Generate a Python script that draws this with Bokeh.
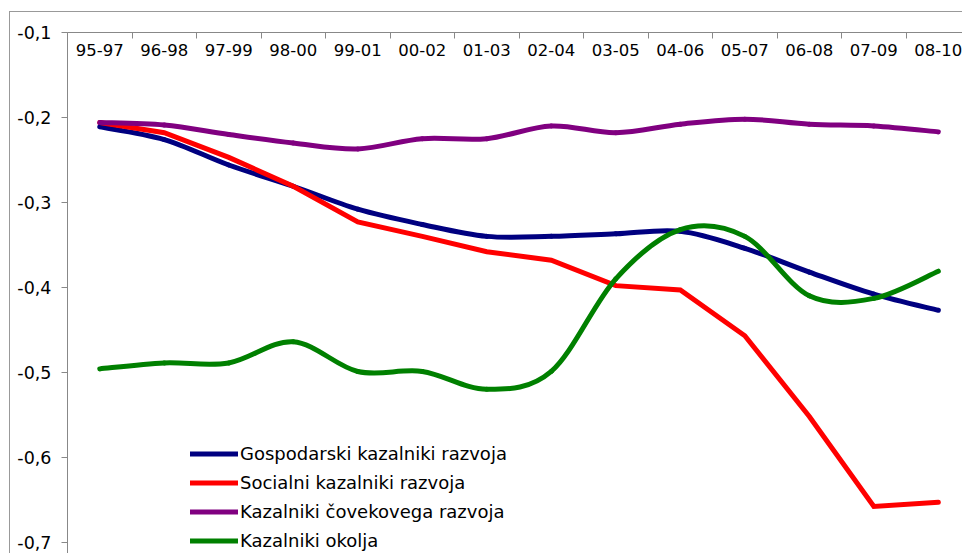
from bokeh.plotting import figure
from bokeh.models import FixedTicker, Legend, LegendItem
from bokeh.embed import file_html
from bokeh.resources import INLINE

categories = ["95-97", "96-98", "97-99", "98-00", "99-01", "00-02", "01-03",
              "02-04", "03-05", "04-06", "05-07", "06-08", "07-09", "08-10"]

gospodarski = [-0.211, -0.226, -0.256, -0.281, -0.308, -0.326, -0.340,
               -0.340, -0.337, -0.334, -0.354, -0.382, -0.408, -0.427]
socialni = [-0.206, -0.218, -0.247, -0.281, -0.323, -0.340, -0.358,
            -0.368, -0.398, -0.403, -0.457, -0.552, -0.658, -0.653]
clovekovega = [-0.206, -0.209, -0.220, -0.230, -0.237, -0.225, -0.225,
               -0.210, -0.218, -0.208, -0.202, -0.208, -0.210, -0.217]
okolja = [-0.496, -0.489, -0.489, -0.464, -0.499, -0.499, -0.520,
          -0.499, -0.390, -0.332, -0.340, -0.410, -0.413, -0.381]

series_names = ["Gospodarski kazalniki razvoja", "Socialni kazalniki razvoja",
                "Kazalniki čovekovega razvoja", "Kazalniki okolja"]
series_colors = ["#000080", "#FF0000", "#800080", "#008000"]

y_ticks = [-0.1, -0.2, -0.3, -0.4, -0.5, -0.6, -0.7]
y_tick_labels = ["-0,1", "-0,2", "-0,3", "-0,4", "-0,5", "-0,6", "-0,7"]

FONT = "DejaVu Sans"

x_centers = [i + 0.5 for i in range(len(categories))]
x_bounds = list(range(len(categories) + 1))

p = figure(width=953, height=542, x_range=(0, 13.89), y_range=(-0.7145, -0.1),
           x_axis_location="above", output_backend="svg", toolbar_location=None,
           min_border_left=57, min_border_top=20, min_border_right=0,
           min_border_bottom=0)
p.margin = (11, 0, 0, 9)
p.styles = {"border-top": "1px solid #999999", "border-left": "1px solid #999999"}
p.outline_line_color = None
p.xgrid.visible = False
p.ygrid.visible = False
p.background_fill_color = "white"
p.border_fill_color = "white"

xa = p.xaxis[0]
xa.ticker = FixedTicker(ticks=x_centers, minor_ticks=x_bounds)
xa.major_label_overrides = {x: c for x, c in zip(x_centers, categories)}
xa.major_tick_in = 0
xa.major_tick_out = 0
xa.minor_tick_in = 6
xa.minor_tick_out = 0
xa.axis_line_color = "#888888"
xa.minor_tick_line_color = "#888888"
xa.major_label_text_font = FONT
xa.major_label_text_font_size = "16.5px"
xa.major_label_text_color = "#000000"
xa.major_label_standoff = -23

ya = p.yaxis[0]
ya.ticker = FixedTicker(ticks=y_ticks)
ya.major_label_overrides = dict(zip(y_ticks, y_tick_labels))
ya.major_tick_in = 0
ya.major_tick_out = 6
ya.minor_tick_line_color = None
ya.axis_line_color = "#888888"
ya.major_tick_line_color = "#888888"
ya.major_label_text_font = FONT
ya.major_label_text_font_size = "17.5px"
ya.major_label_text_color = "#000000"
ya.major_label_standoff = 10


def smooth_segments(xs, ys):
    n = len(xs)
    px = [xs[0]] + list(xs) + [xs[-1]]
    py = [ys[0]] + list(ys) + [ys[-1]]
    seg = dict(x0=[], y0=[], x1=[], y1=[], cx0=[], cy0=[], cx1=[], cy1=[])
    for i in range(n - 1):
        a, b = i + 1, i + 2
        seg["x0"].append(px[a]); seg["y0"].append(py[a])
        seg["x1"].append(px[b]); seg["y1"].append(py[b])
        seg["cx0"].append(px[a] + (px[a + 1] - px[a - 1]) / 6.0)
        seg["cy0"].append(py[a] + (py[a + 1] - py[a - 1]) / 6.0)
        seg["cx1"].append(px[b] - (px[b + 1] - px[b - 1]) / 6.0)
        seg["cy1"].append(py[b] - (py[b + 1] - py[b - 1]) / 6.0)
    return seg


renderers = []
all_series = [gospodarski, socialni, clovekovega, okolja]
smooth = [True, False, True, True]
for vals, col, sm in zip(all_series, series_colors, smooth):
    if sm:
        s = smooth_segments(x_centers, vals)
        r = p.bezier(x0=s["x0"], y0=s["y0"], x1=s["x1"], y1=s["y1"],
                     cx0=s["cx0"], cy0=s["cy0"], cx1=s["cx1"], cy1=s["cy1"],
                     line_color=col, line_width=5, line_cap="round")
    else:
        r = p.line(x_centers, vals, line_color=col, line_width=5,
                   line_join="miter", line_cap="round")
    renderers.append(r)

legend = Legend(items=[LegendItem(label=n, renderers=[r]) for n, r in zip(series_names, renderers)],
                location=(123, -1), orientation="vertical")
legend.background_fill_alpha = 0
legend.border_line_alpha = 0
legend.padding = 0
legend.margin = 0
legend.spacing = 0
legend.glyph_width = 48
legend.glyph_height = 29
legend.label_height = 29
legend.label_standoff = 2
legend.label_text_font = FONT
legend.label_text_font_size = "18px"
legend.label_text_color = "#000000"
p.add_layout(legend, "center")

open("out.html", "w").write(file_html(p, INLINE))
